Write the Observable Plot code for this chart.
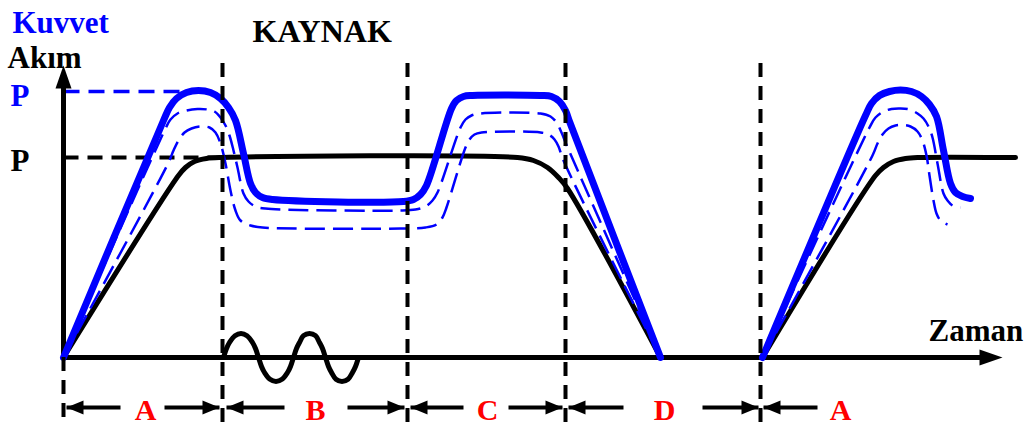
<!DOCTYPE html>
<html>
<head>
<meta charset="utf-8">
<script src="https://cdn.jsdelivr.net/npm/d3@7"></script>
<script src="https://cdn.jsdelivr.net/npm/@observablehq/plot@0.6"></script>
<style>
  html, body { margin: 0; padding: 0; background: #fff; }
  #chart svg { display: block; }
</style>
</head>
<body>
<div id="chart"></div>
<script>
// Units: t = time (x), v = amplitude (y); origin where the axes cross.
// Akım (current) curve, black
const akimA = [[0,0],[115,182],[122,190],[131,196],[143,199],[159,200],[454,200],[470,197],[484,190],[495,180],[504,169],[597,0]];
const akimB = [[699,0],[812,182],[820,190],[830,196],[842,199],[854,200],[952,200]];
// Kuvvet (force) curve, thick blue
const kuvvetA = [[0,0],[100,237],[106,250],[113,259],[123,265],[135,267],[147,265],[157,259],[165,250],[172,237],[180,204],[187,174],[192,165],[199,160],[209,158],[340,156],[350,158],[357,163],[363,172],[388,249],[393,257],[400,261],[409,262],[477,262],[488,261],[496,256],[502,247],[506,236],[597,0]];
const kuvvetB = [[699,0],[802,242],[808,254],[816,262],[826,266],[837,267.5],[848,266],[858,261],[866,253],[873,241],[880,207],[887,174],[892,165],[899,161],[907,159]];
// dashed force variants
const kuvvet2A = [[0,0],[102,229],[107,238],[114,244],[123,247],[134,248.5],[144,248],[151,246],[157,240],[162,232],[166,222],[170,207],[174,190],[180,164],[185,156],[192,151],[202,149],[337,147],[352,148],[362,151],[369,157],[374,165],[397,230],[402,238],[408,242],[417,244],[477,244],[487,241],[493,235],[498,225],[502,215],[597,0]];
const kuvvet2B = [[699,0],[806,230],[812,240],[820,246],[828,248.5],[837,249],[846,248],[854,244],[860,239],[865,231],[869,220],[874,194],[880,164],[884,157],[889,152],[897,150]];
const kuvvet3A = [[0,0],[105,195],[110,207],[115,217],[121,225],[128,229],[137,231],[146,230],[152,225],[157,214],[162,194],[167,167],[172,147],[177,137],[187,132],[199,130],[337,129],[362,130],[373,133],[379,140],[383,150],[402,210],[406,218],[411,223],[418,225],[477,225],[485,223],[491,218],[495,211],[500,197],[597,0]];
const kuvvet3B = [[699,0],[809,202],[814,214],[819,223],[825,229],[832,232],[839,232.5],[847,231],[854,226],[859,217],[863,202],[866,182],[870,157],[873,144],[877,137],[884,133]];
// welding current wave
const wave = [[160,0],[163,9],[166,15],[171.5,21.8],[177.5,24],[183.5,21.8],[189,15],[192,9],[195,0],
              [198,-9],[201,-15],[206.5,-21.8],[212.5,-24],[218.5,-21.8],[224,-15],[227,-9],[230,0],
              [233,9],[236,15],[240,21.8],[246,24],[252,21.8],[256,15],[259,9],[262,0],
              [265,-9],[268,-15],[272.5,-21.8],[278.5,-24],[284.5,-21.8],[289,-15],[292,-9],[295,0]];
// phase boundaries
const phaseLines = [159, 344, 502, 697];
const phaseTop = 294, phaseBottom = -68;
// reference levels
const pKuvvet = 266, pKuvvetEnd = 137;
const pAkim = 200, pAkimEnd = 159;
// axes
const axisYTop = 270, axisYTip = 292;
const axisXEnd = 917, axisXTip = 939;
// phase arrows: [tail, tip]
const arrowY = -50;
const arrowsLeft = [[57,3],[221,163],[400,347],[560,505],[754,700]];
const arrowsRight = [[101,156],[284,341],[445,499],[639,695]];
const phaseLabels = ["A","B","C","D","A"];
const phaseLabelX = [82, 252, 424, 601, 777];
const phaseLabelY = -62;
// texts
const titles = [
  {text:"Kuvvet", t:-51, v:325, color:"#0000ff", size:31},
  {text:"Akım", t:-56, v:290, color:"#000000", size:31},
  {text:"P", t:-53, v:252, color:"#0000ff", size:31},
  {text:"P", t:-53, v:187, color:"#000000", size:31},
  {text:"KAYNAK", t:189, v:316, color:"#000000", size:32},
  {text:"Zaman", t:865, v:17, color:"#000000", size:31}
];

const pts = (arr, id) => arr.map(([t, v]) => ({t, v, id}));
const blue = "#0000ff";
const font = "Liberation Serif";

const headL = 17, headH = 7;
const leftHead = {draw(c){ c.moveTo(0,0); c.lineTo(headL,-headH); c.lineTo(headL,headH); c.closePath(); }};
const rightHead = {draw(c){ c.moveTo(0,0); c.lineTo(-headL,-headH); c.lineTo(-headL,headH); c.closePath(); }};
const axisRight = {draw(c){ c.moveTo(0,0); c.lineTo(-23,-8); c.lineTo(-23,8); c.closePath(); }};
const axisUp = {draw(c){ c.moveTo(0,0); c.lineTo(-8,23); c.lineTo(8,23); c.closePath(); }};

const chart = Plot.plot({
  width: 1025,
  height: 425,
  margin: 0,
  x: {domain: [-63, 962], axis: null},
  y: {domain: [-68, 357], axis: null},
  style: {background: "white"},
  marks: [
    Plot.link([{x1:0, x2:pKuvvetEnd, y:pKuvvet}], {x1:"x1", x2:"x2", y1:"y", y2:"y", stroke: blue, strokeWidth: 3.5, strokeDasharray: "16,9", strokeLinecap: "butt"}),
    Plot.link([{x1:0, x2:pAkimEnd, y:pAkim}], {x1:"x1", x2:"x2", y1:"y", y2:"y", stroke: "black", strokeWidth: 4, strokeDasharray: "15,9", strokeLinecap: "butt"}),
    Plot.link([{x1:0, x2:axisXEnd, y1:0, y2:0}, {x1:0, x2:0, y1:0, y2:axisYTop}], {x1:"x1", x2:"x2", y1:"y1", y2:"y2", stroke: "black", strokeWidth: 5, strokeLinecap: "butt"}),
    Plot.dot([{t:axisXTip, v:0}], {x:"t", y:"v", symbol: axisRight, fill: "black", stroke: "none"}),
    Plot.dot([{t:0, v:axisYTip}], {x:"t", y:"v", symbol: axisUp, fill: "black", stroke: "none"}),
    Plot.line([...pts(akimA, "a"), ...pts(akimB, "b")], {x:"t", y:"v", z:"id", curve: "catmull-rom", stroke: "black", strokeWidth: 5}),
    Plot.line([...pts(kuvvet2A, "a"), ...pts(kuvvet2B, "b"), ...pts(kuvvet3A, "c"), ...pts(kuvvet3B, "d")], {x:"t", y:"v", z:"id", curve: "catmull-rom", stroke: blue, strokeWidth: 2.5, strokeDasharray: "20,8", strokeLinecap: "butt"}),
    Plot.line([...pts(kuvvetA, "a"), ...pts(kuvvetB, "b")], {x:"t", y:"v", z:"id", curve: "catmull-rom", stroke: blue, strokeWidth: 7}),
    Plot.line(pts(wave, "w"), {x:"t", y:"v", curve: "catmull-rom", stroke: "black", strokeWidth: 5}),
    Plot.ruleX(phaseLines, {y1: phaseTop, y2: phaseBottom, stroke: "black", strokeWidth: 4, strokeDasharray: "14,9", strokeLinecap: "butt"}),
    Plot.ruleX([0], {y1: 0, y2: phaseBottom, stroke: "black", strokeWidth: 4, strokeDasharray: "14,9", strokeLinecap: "butt"}),
    Plot.link([...arrowsLeft, ...arrowsRight], {x1: d => d[0], x2: d => d[1], y1: arrowY, y2: arrowY, stroke: "black", strokeWidth: 4, strokeLinecap: "butt"}),
    Plot.dot(arrowsLeft, {x: d => d[1], y: arrowY, symbol: leftHead, fill: "black", stroke: "none"}),
    Plot.dot(arrowsRight, {x: d => d[1], y: arrowY, symbol: rightHead, fill: "black", stroke: "none"}),
    Plot.text(phaseLabels, {x: (d, i) => phaseLabelX[i], y: phaseLabelY, text: d => d, fill: "#ff0000", fontFamily: font, fontWeight: "bold", fontSize: 30, lineAnchor: "bottom", textAnchor: "middle"}),
    ...[31, 32].map(s => Plot.text(titles.filter(d => d.size === s), {x: "t", y: "v", text: "text", fill: "color", fontFamily: font, fontWeight: "bold", fontSize: s, lineAnchor: "bottom", textAnchor: "start"}))
  ]
});
document.getElementById("chart").appendChild(chart);
</script>
</body>
</html>
